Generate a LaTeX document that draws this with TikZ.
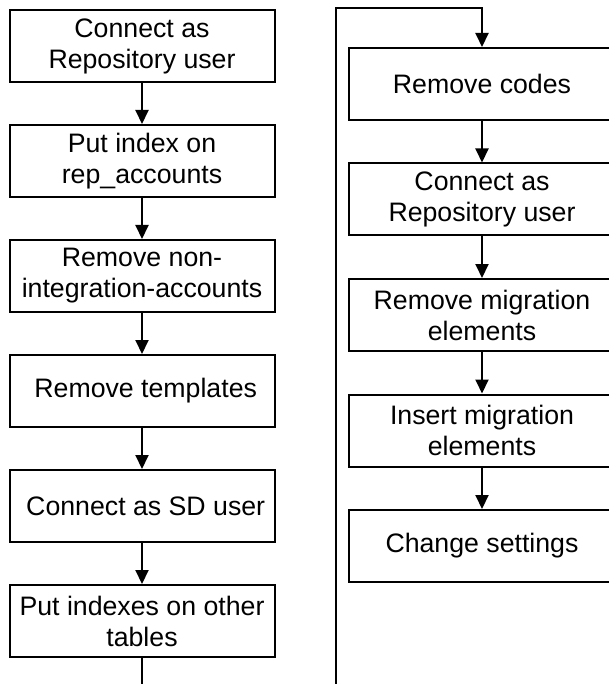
\documentclass[tikz,border=0pt]{standalone}
\usepackage{fontspec}
\setmainfont{Liberation Sans}
\usepackage{tikz}
\usetikzlibrary{arrows.meta,positioning}

\begin{document}
\begin{tikzpicture}[x=1pt,y=1pt,>={Triangle[length=14pt,width=13pt]},line width=2pt,
    stepbox/.style={draw,minimum width=265pt,minimum height=72pt,inner sep=1pt,align=center,
      font=\fontsize{26.7}{31}\selectfont},
    node distance=41pt]
  \useasboundingbox (0,0) rectangle (609,-684);
  \clip (0,0) rectangle (609,-684);
  % left column
  \node[stepbox] (s1) at (142,-46) {Connect as\\Repository user};
  \node[stepbox,below=of s1] (s2) {Put index on\\rep\_accounts};
  \node[stepbox,below=of s2] (s3) {Remove non-\\integration-accounts};
  \node[stepbox,below=of s3] (s4) {\ Remove templates};
  \node[stepbox,below=of s4] (s5) {\ Connect as SD user};
  \node[stepbox,below=of s5] (s6) {Put indexes on other\\tables};
  % right column
  \node[stepbox,minimum width=266pt] (r1) at (482,-84) {Remove codes};
  \node[stepbox,minimum width=266pt,below=41.5pt of r1] (r2) {Connect as\\Repository user};
  \node[stepbox,minimum width=266pt,below=41.5pt of r2] (r3) {Remove migration\\elements};
  \node[stepbox,minimum width=266pt,below=41.5pt of r3] (r4) {Insert migration\\elements};
  \node[stepbox,minimum width=266pt,below=41.5pt of r4] (r5) {Change settings};
  \foreach \a/\b in {s1/s2,s2/s3,s3/s4,s4/s5,s5/s6,r1/r2,r2/r3,r3/r4,r4/r5}
    \draw[->] (\a) -- (\b);
  % continuation from the previous page
  \coordinate (lbot) at (142,-700);
  \coordinate (rbot) at (336,-700);
  \coordinate (rtop) at (336,-8);
  \draw (s6) -- (lbot);
  \draw[->] (rbot) -- (rtop) -| (r1);
\end{tikzpicture}
\end{document}
